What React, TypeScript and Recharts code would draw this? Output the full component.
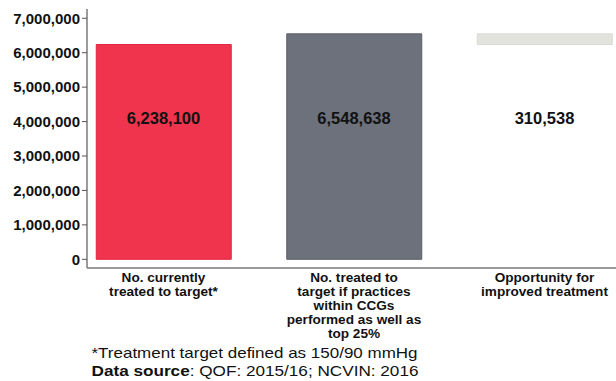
import React from 'react';
import { ComposedChart, Bar, Line, XAxis, YAxis, Cell, LabelList } from 'recharts';

const categoryLines: string[][] = [
  ['No. currently', 'treated to target*'],
  ['No. treated to', 'target if practices', 'within CCGs', 'performed as well as', 'top 25%'],
  ['Opportunity for', 'improved treatment'],
];
const baseValues = [0, 0, 6238100];
const barValues = [6238100, 6548638, 310538];
const valueLabels = ['6,238,100', '6,548,638', '310,538'];
const labelLevel = [4110000, 4110000, 4110000];
const barColors = ['#f0344d', '#6d717b', '#e3e3de'];
const barStrokes = ['#e42540', '#5b5f68', '#dadad4'];
const yTicks = [0, 1000000, 2000000, 3000000, 4000000, 5000000, 6000000, 7000000];
const footnote = '*Treatment target defined as 150/90 mmHg';
const sourceLabel = 'Data source';
const sourceText = ': QOF: 2015/16; NCVIN: 2016';

const data = categoryLines.map((lines, i) => ({
  i,
  base: baseValues[i],
  value: barValues[i],
  level: labelLevel[i],
  label: valueLabels[i],
}));

const FONT = '"Liberation Sans", Arial, sans-serif';

const CategoryTick = (props: any) => {
  const { x, y, payload } = props;
  const lines = categoryLines[payload.value] || [];
  return (
    <text x={x} y={y} textAnchor="middle" fontFamily={FONT} fontWeight="bold" fontSize={13.6} fill="#111">
      {lines.map((l, k) => (
        <tspan key={k} x={x} dy={14}>{l}</tspan>
      ))}
    </text>
  );
};

const ValueLabel = (props: any) => {
  const { x, y, value } = props;
  return (
    <text x={x} y={y} textAnchor="middle" dominantBaseline="central" fontFamily={FONT} fontWeight="bold" fontSize={16.5} fill="#111">
      {value}
    </text>
  );
};

export default function App() {
  return (
    <div style={{ position: 'fixed', left: 0, top: 0, width: 616, height: 381, background: '#fff' }}>
      <ComposedChart width={616} height={381} data={data} margin={{ top: 9, right: 0, left: 0, bottom: 0 }}>
        <XAxis
          type="number"
          dataKey="i"
          domain={[-0.4016, 2.3753]}
          allowDataOverflow
          ticks={[0, 1, 2]}
          interval={0}
          tick={<CategoryTick />}
          tickLine={false}
          tickSize={0}
          tickMargin={0}
          height={113}
          axisLine={{ stroke: '#7a7a7a', strokeWidth: 1.5 }}
        />
        <YAxis
          type="number"
          domain={[-253000, 7270000]}
          allowDataOverflow
          ticks={yTicks}
          interval={0}
          width={87}
          tickSize={5}
          tickMargin={2}
          tickFormatter={(v: number) => v.toLocaleString('en-US')}
          tick={{ fontFamily: FONT, fontWeight: 'bold', fontSize: 15, fill: '#111' }}
          tickLine={{ stroke: '#555', strokeWidth: 1 }}
          axisLine={{ stroke: '#7a7a7a', strokeWidth: 1.5 }}
        />
        <Bar dataKey="base" stackId="s" fill="transparent" barSize={135} isAnimationActive={false} />
        <Bar dataKey="value" stackId="s" barSize={135} isAnimationActive={false}>
          {data.map((d, k) => (
            <Cell key={k} fill={barColors[k]} stroke={barStrokes[k]} strokeWidth={1} />
          ))}
        </Bar>
        <Line dataKey="level" stroke="none" dot={false} activeDot={false} isAnimationActive={false}>
          <LabelList dataKey="label" content={<ValueLabel />} />
        </Line>
      </ComposedChart>
      <svg width={616} height={381} style={{ position: 'absolute', left: 0, top: 0, pointerEvents: 'none' }}>
        <text x={91.5} y={357.5} fontFamily={FONT} fontSize={15} fill="#111" textLength={326} lengthAdjust="spacingAndGlyphs">
          {footnote}
        </text>
        <text x={91.5} y={375.5} fontFamily={FONT} fontSize={15} fill="#111" textLength={327} lengthAdjust="spacingAndGlyphs">
          <tspan fontWeight="bold">{sourceLabel}</tspan>
          <tspan>{sourceText}</tspan>
        </text>
      </svg>
    </div>
  );
}
